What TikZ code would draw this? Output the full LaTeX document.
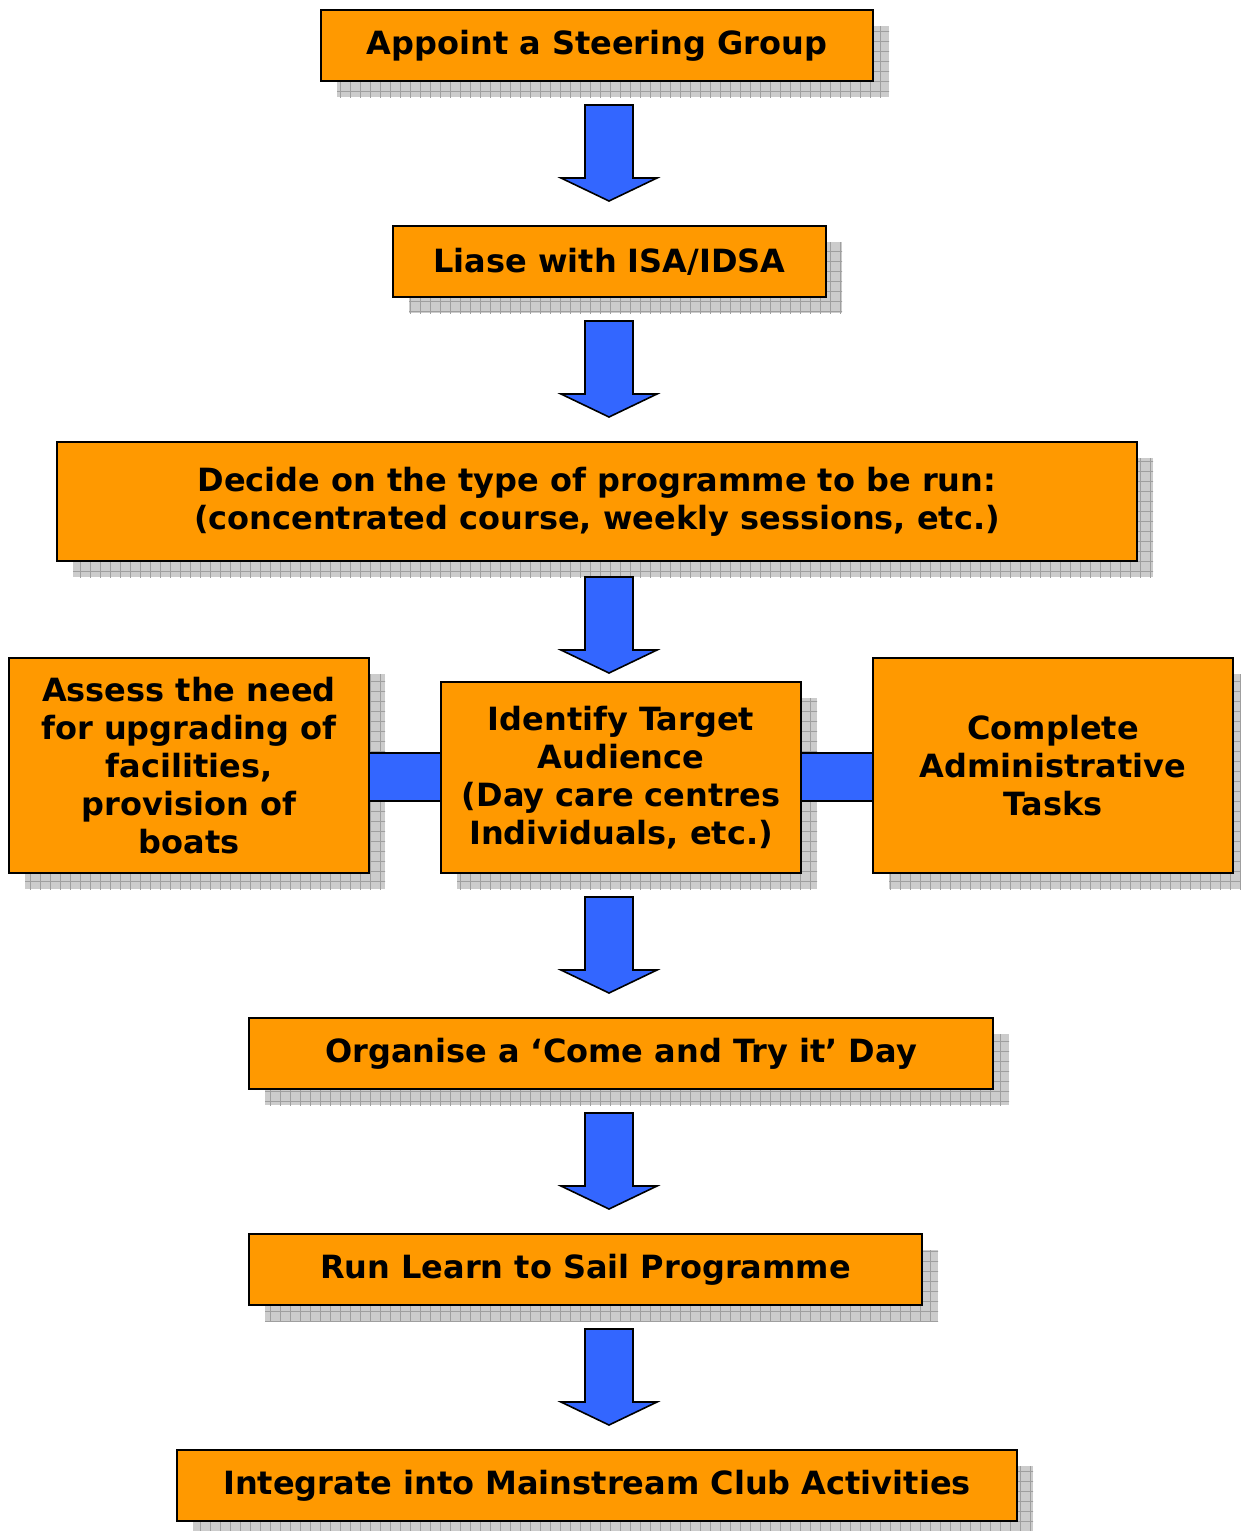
\documentclass[tikz,border=0pt]{standalone}
\usepackage{fontspec}
\setmainfont{DejaVu Sans}
\usetikzlibrary{shadows,patterns.meta}
\definecolor{boxorange}{HTML}{FF9900}
\definecolor{arrowblue}{HTML}{3366FF}

\begin{document}
\begin{tikzpicture}[x=0.5pt, y=-0.5pt,
    every node/.style={font=\bfseries\fontsize{16}{19}\selectfont, align=center, inner sep=0pt, outer sep=0pt},
    box/.style={draw=black, line width=1pt, fill=boxorange,
        general shadow={fill=gray!40, shadow xshift=8pt, shadow yshift=-8pt},
        general shadow={pattern={Lines[angle=0, distance=5pt, line width=0.4pt]}, pattern color=gray!75, shadow xshift=8pt, shadow yshift=-8pt},
        general shadow={pattern={Lines[angle=90, distance=5pt, line width=0.4pt]}, pattern color=gray!75, shadow xshift=8pt, shadow yshift=-8pt}},
    blockarrow/.style={draw=black, line width=0.8pt, fill=arrowblue, line join=miter}]
    \useasboundingbox (0,0) rectangle (1241,1531);

    \node[box, minimum width=276pt, minimum height=35.5pt](start) at (597, 45.5) {Appoint a Steering Group};
    \node[box, minimum width=216.5pt, minimum height=35.5pt](isa) at (609.5, 261.5) {Liase with ISA/IDSA};
    \node[box, minimum width=540pt, minimum height=59.5pt](decide) at (597, 501.5)
        {Decide on the type of programme to be run:\\(concentrated course, weekly sessions, etc.)};

    % middle row
    \node[box, minimum width=180pt, minimum height=107.5pt](assess) at (189, 765.5)
        {Assess the need\\for upgrading of\\facilities,\\provision of\\boats};
    \node[box, minimum width=180pt, minimum height=95.5pt](identify) at (621, 777.5)
        {Identify Target\\Audience\\(Day care centres\\Individuals, etc.)};
    \node[box, minimum width=180pt, minimum height=107.5pt](complete) at (1053, 765.5)
        {Complete\\Administrative\\Tasks};

    \node[box, minimum width=372pt, minimum height=35.5pt](organise) at (621, 1053.5) {Organise a ‘Come and Try it’ Day};
    \node[box, minimum width=336.5pt, minimum height=35.5pt](run) at (585.5, 1269.5) {Run Learn to Sail Programme};
    \node[box, minimum width=420pt, minimum height=35.5pt](integrate) at (597, 1485.5) {Integrate into Mainstream Club Activities};

    % links of the middle row
    \draw[blockarrow] ([yshift=6.25pt]assess.east) rectangle ([yshift=-11.75pt]identify.west);
    \draw[blockarrow] ([yshift=12.25pt]identify.east) rectangle ([yshift=-17.75pt]complete.west);

    % block arrows
    \coordinate (axis) at (609, 0);
    \foreach \n/\g in {start/12, isa/12, decide/8, identify/12, organise/12, run/12}
        \draw[blockarrow] ([xshift=-12pt, yshift=-\g pt]axis |- \n.south)
            -- ++(48,0) -- ++(0,73) -- ++(24,0) -- ++(-48,23) -- ++(-48,-23) -- ++(24,0) -- cycle;
\end{tikzpicture}
\end{document}
